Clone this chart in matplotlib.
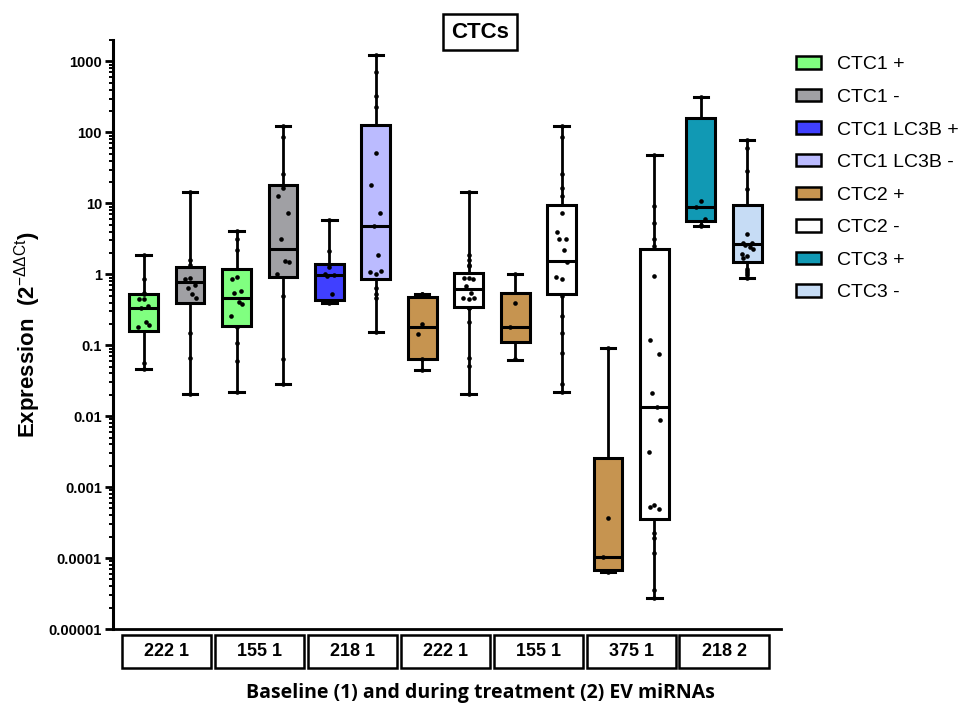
import matplotlib
matplotlib.use('Agg')
import matplotlib.pyplot as plt
import matplotlib.patches as mpatches
import matplotlib.transforms as mtransforms
from matplotlib.ticker import LogLocator, FixedLocator, FixedFormatter, NullFormatter

plt.rcParams['font.family'] = ['Liberation Sans', 'DejaVu Sans']
plt.rcParams['mathtext.fontset'] = 'custom'
plt.rcParams['mathtext.rm'] = 'Liberation Sans'
plt.rcParams['mathtext.it'] = 'Liberation Sans:italic'
plt.rcParams['mathtext.bf'] = 'Liberation Sans:bold'

# one box per series, two boxes per miRNA group
series = ['CTC1 +', 'CTC1 -', 'CTC1 +', 'CTC1 -', 'CTC1 LC3B +', 'CTC1 LC3B -',
          'CTC2 +', 'CTC2 -', 'CTC2 +', 'CTC2 -', 'CTC2 +', 'CTC2 -',
          'CTC3 +', 'CTC3 -']
groups = ['222 1', '155 1', '218 1', '222 1', '155 1', '375 1', '218 2']

whis_lo = [0.046, 0.0203, 0.0217, 0.028, 0.40, 0.153, 0.045, 0.0204,
           0.0627, 0.0217, 6.45e-5, 2.77e-5, 4.73, 0.89]
q1 = [0.157, 0.39, 0.187, 0.93, 0.436, 0.855, 0.064, 0.35,
      0.110, 0.536, 6.8e-5, 0.000357, 5.64, 1.49]
med = [0.34, 0.77, 0.47, 2.31, 0.98, 4.79, 0.18, 0.63,
       0.183, 1.53, 0.000103, 0.0135, 8.97, 2.67]
q3 = [0.52, 1.28, 1.2, 17.9, 1.41, 129, 0.486, 1.06,
      0.553, 9.36, 0.00257, 2.31, 158, 9.48]
whis_hi = [1.85, 14.3, 4.07, 124, 5.9, 1216, 0.53, 14.4,
           1.02, 124, 0.0917, 48.6, 313, 79.2]

points = [
    [1.85, 0.87, 0.54, 0.52, 0.45, 0.45, 0.36, 0.33, 0.21, 0.19, 0.18, 0.057, 0.046],
    [14.3, 1.58, 1.34, 0.90, 0.85, 0.70, 0.65, 0.52, 0.47, 0.147, 0.067, 0.0203],
    [4.07, 3.19, 2.2, 0.93, 0.87, 0.58, 0.55, 0.41, 0.38, 0.26, 0.18, 0.109, 0.06, 0.0217],
    [124, 86, 25.6, 16.7, 12.7, 7.2, 3.1, 1.54, 1.5, 1.02, 0.49, 0.065, 0.028],
    [5.9, 2.1, 1.27, 1.0, 0.98, 0.95, 0.53, 0.42, 0.41, 0.40],
    [1216, 700, 324, 227, 50.7, 17.9, 7.2, 4.8, 1.9, 1.1, 1.07, 1.02, 0.64, 0.53, 0.46, 0.153],
    [0.53, 0.53, 0.2, 0.145, 0.064, 0.045],
    [14.4, 1.86, 1.59, 1.34, 1.31, 0.90, 0.88, 0.87, 0.69, 0.54, 0.47, 0.46, 0.45,
     0.34, 0.33, 0.215, 0.067, 0.051, 0.0204],
    [1.02, 0.39, 0.18, 0.063],
    [124, 87, 25.6, 16.7, 12.7, 7.2, 4.0, 3.16, 3.1, 2.2, 1.48, 0.93, 0.87, 0.49,
     0.26, 0.148, 0.079, 0.028, 0.0217],
    [0.0917, 0.00037, 0.000104, 6.6e-5, 6.5e-5, 6.4e-5],
    [48.6, 9.2, 5.3, 3.1, 2.47, 0.95, 0.12, 0.075, 0.0214, 0.0133, 0.0088, 0.0031,
     0.00056, 0.00053, 0.00049, 0.000229, 0.00019, 0.000118, 3.6e-5, 2.77e-5],
    [313, 10.7, 8.9, 6.0, 5.0, 4.73],
    [79.2, 60.5, 29, 16, 3.7, 2.8, 2.75, 2.6, 2.46, 2.26, 1.92, 1.8, 1.7, 1.19,
     1.1, 1.05, 0.97, 0.89],
]

legend_order = ['CTC1 +', 'CTC1 -', 'CTC1 LC3B +', 'CTC1 LC3B -',
                'CTC2 +', 'CTC2 -', 'CTC3 +', 'CTC3 -']
colors = {
    'CTC1 +': '#80FF80',
    'CTC1 -': '#A0A0A4',
    'CTC1 LC3B +': '#4040FF',
    'CTC1 LC3B -': '#BBBBFF',
    'CTC2 +': '#C69450',
    'CTC2 -': '#FFFFFF',
    'CTC3 +': '#1199B4',
    'CTC3 -': '#C6DCF5',
}

fig = plt.figure(figsize=(9.62, 7.04), dpi=100)
ax = fig.add_axes([0.1175, 0.1065, 0.6945, 0.8365])

stats = []
for i in range(len(series)):
    stats.append(dict(whislo=whis_lo[i], q1=q1[i], med=med[i], q3=q3[i],
                      whishi=whis_hi[i], fliers=[]))

pos = list(range(len(series)))
bp = ax.bxp(stats, positions=pos, widths=0.62, patch_artist=True,
            showfliers=False,
            boxprops=dict(linewidth=2.2, edgecolor='black'),
            medianprops=dict(color='black', linewidth=2.2),
            whiskerprops=dict(color='black', linewidth=2.0),
            capprops=dict(color='black', linewidth=2.2))
for box, name in zip(bp['boxes'], series):
    box.set_facecolor(colors[name])

# points, spread a little inside the box
jit = [0, -0.1, 0.1, -0.05, 0.05, 0.12, -0.12]
for i, vals in enumerate(points):
    xs = []
    k = 0
    for v in vals:
        if q1[i] < v < q3[i]:
            xs.append(pos[i] + jit[k % len(jit)])
            k += 1
        else:
            xs.append(pos[i])
    ax.scatter(xs, vals, s=11, color='black', zorder=5, linewidths=0)

ax.set_yscale('log')
ax.set_ylim(1e-5, 2000)
ax.set_xlim(-0.66, 13.73)

yt = [1e-5, 1e-4, 1e-3, 1e-2, 1e-1, 1, 10, 100, 1000]
ytl = ['0.00001', '0.0001', '0.001', '0.01', '0.1', '1', '10', '100', '1000']
ax.yaxis.set_major_locator(FixedLocator(yt))
ax.yaxis.set_major_formatter(FixedFormatter(ytl))
ax.yaxis.set_minor_locator(LogLocator(base=10, subs=range(2, 10), numticks=20))
ax.yaxis.set_minor_formatter(NullFormatter())
ax.tick_params(axis='y', which='major', length=6, width=2, pad=2, labelsize=10.5)
ax.tick_params(axis='y', which='minor', length=3, width=1.4)
for lab in ax.get_yticklabels():
    lab.set_fontweight('bold')
ax.set_xticks([])

for s in ['top', 'right']:
    ax.spines[s].set_visible(False)
ax.spines['left'].set_linewidth(2.2)
ax.spines['bottom'].set_linewidth(2.0)

# group label boxes under the axis
trans = mtransforms.blended_transform_factory(ax.transData, ax.transAxes)
for g, lab in enumerate(groups):
    x0 = 2 * g - 0.46
    ax.add_patch(mpatches.Rectangle((x0, -0.066), 1.92, 0.056, transform=trans,
                                    facecolor='white', edgecolor='black',
                                    linewidth=1.8, clip_on=False))
    ax.text(2 * g + 0.5, -0.038, lab, transform=trans, ha='center', va='center',
            fontsize=13, fontweight='bold')

ax.set_ylabel(r'Expression  (2$^{\mathrm{-\Delta\Delta Ct}}$)', fontsize=16,
              fontweight='bold', labelpad=4)
fig.text(0.499, 1 - 693 / 704, 'Baseline (1) and during treatment (2) EV miRNAs',
         ha='center', va='center', fontsize=14, fontweight='bold',
         family=['Open Sans', 'DejaVu Sans'])

fig.text(0.499, 1 - 32 / 704, 'CTCs', ha='center', va='center', fontsize=16,
         fontweight='bold',
         bbox=dict(boxstyle='square,pad=0.35', facecolor='white',
                   edgecolor='black', linewidth=1.8))

handles = [mpatches.Patch(facecolor=colors[n], edgecolor='black', linewidth=1.8, label=n)
           for n in legend_order]
fig.legend(handles=handles, loc='upper left', bbox_to_anchor=(0.8274, 0.92),
           frameon=False, fontsize=14, handlelength=1.3, handleheight=0.6,
           handletextpad=0.8, labelspacing=0.8, borderpad=0, borderaxespad=0)

fig.savefig('out.png', dpi=100)
